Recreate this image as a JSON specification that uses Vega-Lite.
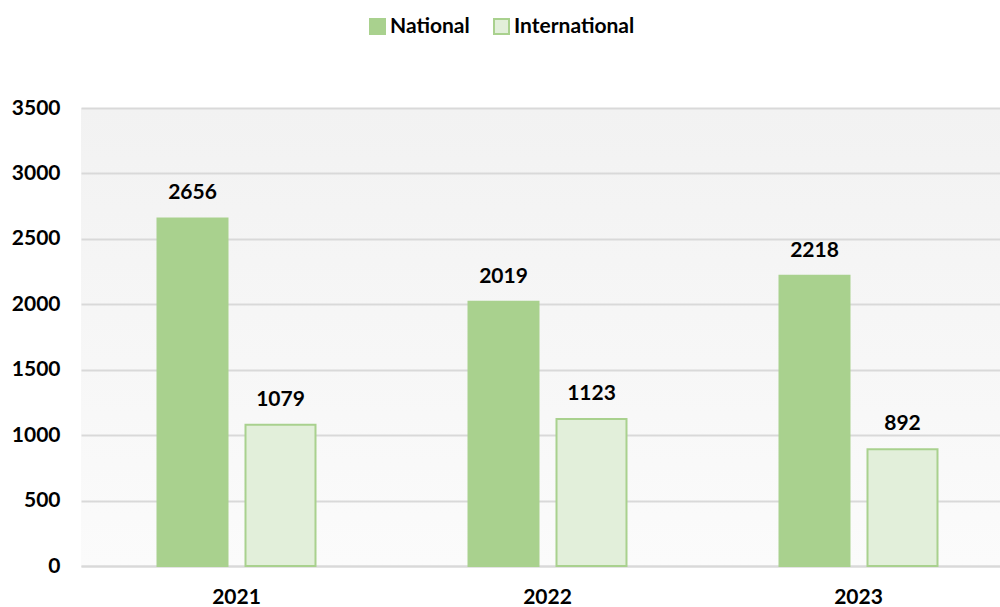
{
  "$schema": "https://vega.github.io/schema/vega-lite/v6.json",
  "autosize": {"type": "none"},
  "width": 933,
  "height": 458,
  "padding": {"left": 81, "top": 108, "right": 0, "bottom": 41},
  "background": "white",
  "config": {
    "font": "Lato",
    "view": {
      "stroke": null,
      "fill": {"gradient": "linear", "x1": 0, "y1": 0, "x2": 0, "y2": 1, "stops": [{"offset": 0, "color": "#f2f2f2"}, {"offset": 1, "color": "#fbfbfb"}]}
    }
  },
  "data": {
    "values": [
      {"year": "2021", "type": "National", "value": 2656},
      {"year": "2021", "type": "International", "value": 1079},
      {"year": "2022", "type": "National", "value": 2019},
      {"year": "2022", "type": "International", "value": 1123},
      {"year": "2023", "type": "National", "value": 2218},
      {"year": "2023", "type": "International", "value": 892}
    ]
  },
  "encoding": {
    "x": {
      "field": "year", "type": "nominal", "title": null,
      "scale": {"paddingInner": 0.492, "paddingOuter": 0.246},
      "axis": {"labelAngle": 0, "labelFont": "Lato", "labelFontSize": 21, "labelFontWeight": "bold", "labelColor": "#000000", "ticks": false, "domainColor": "#d9d9d9", "domainWidth": 2, "labelPadding": 20}
    },
    "xOffset": {"field": "type", "type": "nominal", "sort": ["National", "International"], "scale": {"paddingInner": 0.2045, "paddingOuter": 0}},
    "y": {
      "field": "value", "type": "quantitative", "title": null,
      "scale": {"domain": [0, 3500], "nice": false},
      "axis": {"values": [0, 500, 1000, 1500, 2000, 2500, 3000, 3500], "format": "d", "labelFont": "Lato", "labelFontSize": 21, "labelFontWeight": "bold", "labelColor": "#000000", "ticks": false, "domain": false, "gridColor": "#d9d9d9", "gridWidth": 2, "labelPadding": 21}
    }
  },
  "layer": [
    {
      "mark": {"type": "bar", "strokeWidth": 2},
      "encoding": {
        "fill": {
          "field": "type", "type": "nominal", "sort": ["National", "International"],
          "scale": {"domain": ["National", "International"], "range": ["#a9d18e", "#e2efda"]},
          "legend": {"title": null, "orient": "none", "legendX": 286, "legendY": -92, "direction": "horizontal", "symbolType": "square", "symbolSize": 225, "symbolStrokeColor": "#a9d18e", "symbolStrokeWidth": 2, "labelFont": "Lato", "labelFontSize": 21, "labelFontWeight": "bold", "labelColor": "#000000", "columnPadding": 20, "labelOffset": 2}
        },
        "stroke": {
          "field": "type", "type": "nominal",
          "scale": {"domain": ["National", "International"], "range": ["#a9d18e", "#a9d18e"]},
          "legend": null
        }
      }
    },
    {
      "mark": {"type": "text", "baseline": "bottom", "dy": -15, "font": "Lato", "fontSize": 21, "fontWeight": "bold", "color": "#000000"},
      "encoding": {"text": {"field": "value", "type": "quantitative"}}
    }
  ]
}
